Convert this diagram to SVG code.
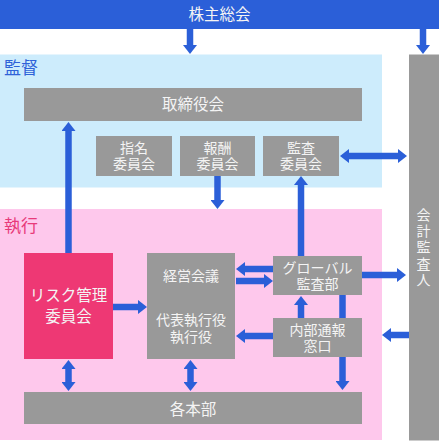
<svg xmlns="http://www.w3.org/2000/svg" width="440" height="441" viewBox="0 0 440 441">
<style>
text{font-family:"Noto Sans CJK JP","Noto Sans",sans-serif;}
.box{fill:#999999;}
.lbl{fill:#f4f4f4;font-size:14px;text-anchor:middle;}
.big{fill:#f4f4f4;font-size:15.5px;text-anchor:middle;}
.conn line{stroke:#2b5fd8;stroke-width:6.5;fill:none;}
</style>
<defs>
<marker id="ah" markerUnits="userSpaceOnUse" markerWidth="9" markerHeight="14" refX="0" refY="7" orient="auto-start-reverse" viewBox="0 0 9 14">
<path d="M0,0 L9,7 L0,14 Z" fill="#2b5fd8"/>
</marker>
</defs>
<rect x="0" y="0" width="440" height="441" fill="#ffffff"/>
<g id="region-kantoku">
<rect x="0" y="54.5" width="382" height="133" fill="#cdecfc"/>
<text x="4" y="74" font-size="17" fill="#2f62d8">監督</text>
</g>
<g id="region-shikko">
<rect x="0" y="209" width="382" height="231" fill="#fec8ec"/>
<text x="4" y="232" font-size="17" fill="#e83a7a">執行</text>
</g>
<g id="kabunushi">
<rect x="0" y="0" width="439" height="29" fill="#2b5fd8"/>
<text class="big" x="219.5" y="20" fill="#ffffff">株主総会</text>
</g>
<g id="kaikei">
<rect x="409" y="54.5" width="30" height="386" class="box"/>
<text class="lbl" x="423.5" y="220">会</text>
<text class="lbl" x="423.5" y="236">計</text>
<text class="lbl" x="423.5" y="252">監</text>
<text class="lbl" x="423.5" y="268.5">査</text>
<text class="lbl" x="423.5" y="285">人</text>
</g>
<g id="torishimariyakukai">
<rect x="24" y="88" width="338" height="33" class="box"/>
<text class="big" x="193" y="110">取締役会</text>
</g>
<g id="shimei">
<rect x="96" y="136" width="76" height="40" class="box"/>
<text class="lbl" x="134" y="153">指名</text>
<text class="lbl" x="134" y="169">委員会</text>
</g>
<g id="hoshu">
<rect x="180" y="136" width="75" height="40" class="box"/>
<text class="lbl" x="217.5" y="153">報酬</text>
<text class="lbl" x="217.5" y="169">委員会</text>
</g>
<g id="kansa-iinkai">
<rect x="263" y="136" width="76" height="40" class="box"/>
<text class="lbl" x="301" y="153">監査</text>
<text class="lbl" x="301" y="169">委員会</text>
</g>
<g id="risk">
<rect x="24" y="253" width="89" height="106" fill="#ee3874"/>
<text class="big" x="68.5" y="301" fill="#ffffff">リスク管理</text>
<text class="big" x="68.5" y="322" fill="#ffffff">委員会</text>
</g>
<g id="keiei">
<rect x="147" y="253" width="88" height="106" class="box"/>
<text class="lbl" x="191" y="281">経営会議</text>
<text class="lbl" x="191" y="325">代表執行役</text>
<text class="lbl" x="191" y="342">執行役</text>
</g>
<g id="global">
<rect x="273" y="256" width="89" height="39" class="box"/>
<text class="lbl" x="317.5" y="273">グローバル</text>
<text class="lbl" x="317.5" y="289">監査部</text>
</g>
<g id="naibu">
<rect x="273" y="318" width="89" height="39" class="box"/>
<text class="lbl" x="317.5" y="335">内部通報</text>
<text class="lbl" x="317.5" y="351">窓口</text>
</g>
<g id="kakuhonbu">
<rect x="24" y="392" width="338" height="32" class="box"/>
<text class="big" x="193" y="414.5">各本部</text>
</g>
<g id="connectors" class="conn">
<line x1="190" y1="29" x2="190" y2="45" marker-end="url(#ah)"/>
<line x1="423" y1="29" x2="423" y2="45" marker-end="url(#ah)"/>
<line x1="68.5" y1="253" x2="68.5" y2="131" marker-end="url(#ah)"/>
<line x1="217.5" y1="176" x2="217.5" y2="200" marker-end="url(#ah)"/>
<line x1="349" y1="156" x2="398" y2="156" marker-start="url(#ah)" marker-end="url(#ah)"/>
<line x1="301" y1="256" x2="301" y2="185" marker-end="url(#ah)"/>
<line x1="113" y1="307" x2="138" y2="307" marker-end="url(#ah)"/>
<line x1="273" y1="269" x2="245" y2="269" marker-end="url(#ah)"/>
<line x1="236" y1="281" x2="264" y2="281" marker-end="url(#ah)"/>
<line x1="362" y1="275" x2="397" y2="275" marker-end="url(#ah)"/>
<line x1="301" y1="318" x2="301" y2="305" marker-end="url(#ah)"/>
<line x1="273" y1="336" x2="245" y2="336" marker-end="url(#ah)"/>
<line x1="409" y1="335" x2="391" y2="335" marker-end="url(#ah)"/>
<line x1="342.5" y1="295" x2="342.5" y2="318"/>
<line x1="342.5" y1="357" x2="342.5" y2="381" marker-end="url(#ah)"/>
<line x1="68.5" y1="369" x2="68.5" y2="382" marker-start="url(#ah)" marker-end="url(#ah)"/>
<line x1="190.5" y1="369" x2="190.5" y2="382" marker-start="url(#ah)" marker-end="url(#ah)"/>
</g>
</svg>
